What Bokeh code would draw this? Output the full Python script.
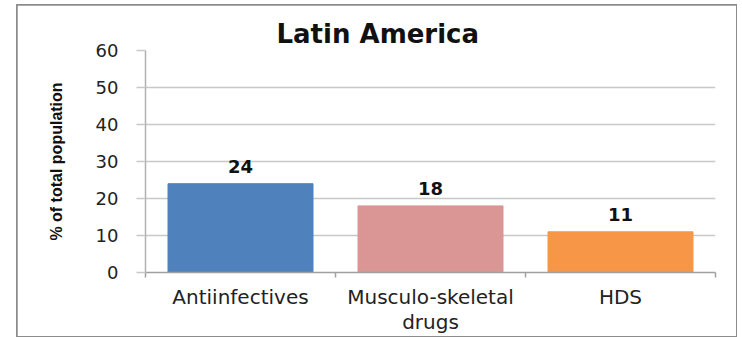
from bokeh.plotting import figure
from bokeh.models import ColumnDataSource, FixedTicker, LabelSet, Range1d, Title
from bokeh.core.properties import value
from bokeh.embed import file_html
from bokeh.resources import INLINE

categories = ["Antiinfectives", "Musculo-skeletal drugs", "HDS"]
tick_texts = ["Antiinfectives", "Musculo-skeletal\ndrugs", "HDS"]
values = [24, 18, 11]
colors = ["#4F81BD", "#D99694", "#F79646"]
y_ticks = [0, 10, 20, 30, 40, 50, 60]

xs = [i + 0.5 for i in range(len(categories))]
bounds = list(range(len(categories) + 1))

src = ColumnDataSource(dict(x=xs, top=values, color=colors,
                            label=[str(v) for v in values]))

p = figure(width=719, height=331, output_backend="svg", toolbar_location=None,
           x_range=Range1d(0, len(categories)), y_range=Range1d(0, 60),
           min_border_left=128, min_border_right=21, min_border_top=45,
           min_border_bottom=62, margin=(5, 0, 0, 17))
p.styles = {"outline": "2px solid #8c8c8c", "outline-offset": "-1px"}
p.outline_line_color = None
p.background_fill_color = "white"
p.border_fill_color = "white"

p.vbar(x="x", top="top", width=0.763, bottom=0, color="color", source=src)

labels = LabelSet(x="x", y="top", text="label", source=src, y_offset=11,
                  text_align="center", text_baseline="bottom",
                  text_font=value("DejaVu Sans"), text_font_style="bold",
                  text_font_size="18px", text_color="#111111")
p.add_layout(labels)

# y axis
ya = p.yaxis[0]
ya.ticker = FixedTicker(ticks=y_ticks)
ya.axis_line_color = "#b0b0b0"
ya.axis_line_width = 1.5
ya.major_tick_out = 9
ya.major_tick_in = 0
ya.major_tick_line_color = "#c8c8c8"
ya.major_tick_line_width = 1.5
ya.minor_tick_line_color = None
ya.major_label_standoff = 18
ya.major_label_text_font = "DejaVu Sans"
ya.major_label_text_font_size = "18px"
ya.major_label_text_color = "#222222"
ya.axis_label = "% of total population"
ya.axis_label_text_font = "Liberation Sans"
ya.axis_label_text_font_style = "bold"
ya.axis_label_text_font_size = "16px"
ya.axis_label_text_color = "#111111"
ya.axis_label_standoff = 28

# x axis
xa = p.xaxis[0]
xa.ticker = FixedTicker(ticks=xs, minor_ticks=bounds)
xa.major_label_overrides = {x: t for x, t in zip(xs, tick_texts)}
xa.axis_line_color = "#a0a0a0"
xa.axis_line_width = 1.5
xa.major_tick_line_color = None
xa.major_tick_out = 0
xa.major_tick_in = 0
xa.minor_tick_out = 5
xa.minor_tick_in = 0
xa.minor_tick_line_color = "#a0a0a0"
xa.minor_tick_line_width = 1.5
xa.major_label_standoff = 7
xa.major_label_text_font = "DejaVu Sans"
xa.major_label_text_font_size = "20px"
xa.major_label_text_line_height = 1.05
xa.major_label_text_color = "#222222"

p.xgrid.grid_line_color = None
p.ygrid.ticker = FixedTicker(ticks=y_ticks)
p.ygrid.grid_line_color = "#c8c8c8"
p.ygrid.grid_line_width = 1.5

p.title = Title(text="Latin America", align="left", offset=131,
                text_font="DejaVu Sans", text_font_style="bold",
                text_font_size="26px", text_color="#111111", standoff=3)

open("out.html", "w").write(file_html(p, INLINE))
